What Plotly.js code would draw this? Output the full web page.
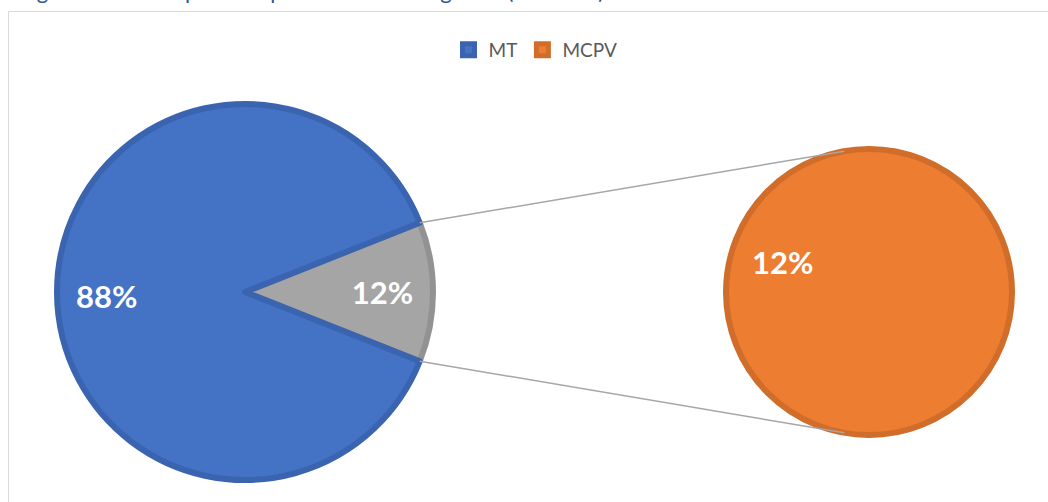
<!DOCTYPE html>
<html>
<head>
<meta charset="utf-8">
<script src="https://cdn.plot.ly/plotly-3.0.1.min.js"></script>
<style>
  html, body { margin: 0; padding: 0; background: #fff; }
  #chart { width: 1048px; height: 502px; }
</style>
</head>
<body>
<div id="chart"></div>
<script>
// Pie-of-pie: MT vs MCPV share, the MCPV slice broken out on the right.
const W = 1048, H = 502;

const mainLabels = ["Other", "MT"];
const mainValues = [12, 88];
const subLabels = ["MT", "MCPV"];
const subValues = [0, 12];

const BLUE = "#4472C4", BLUE_EDGE = "#3A64B0";
const GREY = "#A5A5A5", GREY_EDGE = "#929292";
const ORANGE = "#ED7D31", ORANGE_EDGE = "#D06D2A";
const FONT = "Lato, 'Open Sans', sans-serif";

// pie placement in pixels -> paper domain
const main = { cx: 245, cy: 292, r: 188 };
const sub = { cx: 869, cy: 292, r: 143 };
const dom = (p) => ({
  x: [(p.cx - p.r) / W, (p.cx + p.r) / W],
  y: [(H - p.cy - p.r) / H, (H - p.cy + p.r) / H],
});

const total = mainValues.reduce((a, b) => a + b, 0);
const pct = (v) => Math.round(v / total * 100) + "%";

// wedge half-angle from the "Other" share
const half = (mainValues[0] / total) * Math.PI;
const px = (x) => x / W, py = (y) => 1 - y / H;
const attach = 100 * Math.PI / 180;
const connectors = [-1, 1].map(s => ({
  type: "line", xref: "paper", yref: "paper",
  x0: px(main.cx + main.r * Math.cos(half)), y0: py(main.cy + s * main.r * Math.sin(half)),
  x1: px(sub.cx + sub.r * Math.cos(attach)), y1: py(sub.cy + s * sub.r * Math.sin(attach)),
  line: { color: "#A6A6A6", width: 1.5 },
}));

const traces = [
  {
    type: "pie", labels: mainLabels, values: mainValues, sort: false,
    direction: "clockwise", rotation: 90 - half * 180 / Math.PI,
    domain: dom(main), showlegend: false,
    marker: { colors: [GREY, BLUE], line: { color: [GREY_EDGE, BLUE_EDGE], width: 6 } },
    texttemplate: ["%{percent:.0%}", ""], textposition: "inside", insidetextorientation: "horizontal",
    textfont: { family: FONT, size: 31, color: "#fff", weight: "bold" },
    hoverinfo: "skip",
  },
  {
    type: "pie", labels: subLabels, values: subValues, sort: false,
    domain: dom(sub), showlegend: true,
    marker: { colors: [BLUE, ORANGE], line: { color: [BLUE_EDGE, ORANGE_EDGE], width: 6 } },
    textinfo: "none", hoverinfo: "skip",
  },
];

const label = (text, x, y) => ({
  text: "<b>" + text + "</b>", xref: "paper", yref: "paper",
  x: px(x), y: py(y), xanchor: "center", yanchor: "middle", showarrow: false,
  font: { family: FONT, size: 31, color: "#fff" },
});

const layout = {
  width: W, height: H,
  margin: { l: 0, r: 0, t: 0, b: 0 },
  paper_bgcolor: "#fff",
  showlegend: true,
  legend: {
    orientation: "h", x: 0.511, xanchor: "center", y: py(50), yanchor: "middle",
    font: { family: FONT, size: 19, color: "#595959" },
    itemwidth: 30, traceorder: "normal",
  },
  shapes: [
    { type: "rect", xref: "paper", yref: "paper", x0: px(8.5), x1: 1.01, y0: -0.01, y1: py(11.5),
      line: { color: "#D9D9D9", width: 1 }, layer: "below" },
    ...connectors,
  ],
  annotations: [
    { text: "Figure 14: Total Split of Expenditures in Budget FY (2019-20)", xref: "paper", yref: "paper",
      x: px(17), xanchor: "left", y: py(6.5), yanchor: "bottom", showarrow: false,
      font: { family: FONT, size: 22, color: "#2F5597" } },
    label(pct(mainValues[1]), 106, 296),
    label(pct(subValues[1]), 782, 262),
  ],
};

Plotly.newPlot("chart", traces, layout, { staticPlot: true, displayModeBar: false });
</script>
</body>
</html>
